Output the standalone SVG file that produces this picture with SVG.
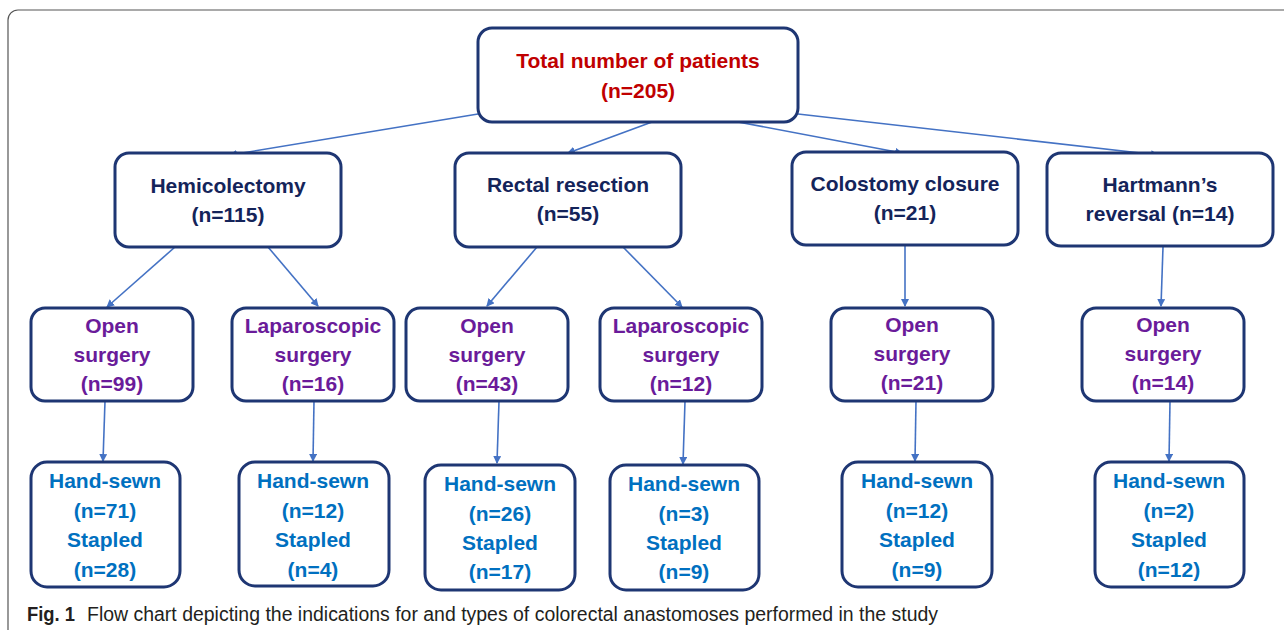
<svg xmlns="http://www.w3.org/2000/svg" width="1284" height="630" viewBox="0 0 1284 630">
<style>
.box{fill:#fff;stroke:#1E3673;stroke-width:3}
.t{font-family:"Liberation Sans",Arial,sans-serif;font-weight:bold;font-size:21px;text-anchor:middle}
.red{fill:#C00000}
.navy{fill:#14245A}
.pur{fill:#6A1B9A}
.blu{fill:#0070C0}
.c line{stroke:#4472C4;stroke-width:1.6;marker-end:url(#ah)}
.cap{font-family:"Liberation Sans",Arial,sans-serif;font-size:20px;fill:#231F20}
</style>
<defs>
<marker id="ah" markerWidth="8" markerHeight="8" refX="7" refY="4" orient="auto" markerUnits="userSpaceOnUse">
<path d="M0,0 L8,4 L0,8 Z" fill="#4472C4"/>
</marker>
</defs>
<rect width="1284" height="630" fill="#fff"/>
<rect x="8" y="10" width="1290" height="640" rx="10" fill="none" stroke="#555" stroke-width="1.2"/>

<g class="c">
<line x1="478" y1="114" x2="230" y2="155"/>
<line x1="652" y1="122" x2="568" y2="153"/>
<line x1="738" y1="122" x2="902" y2="153"/>
<line x1="798" y1="114" x2="1158" y2="155"/>
<line x1="175" y1="247" x2="107" y2="307"/>
<line x1="268" y1="247" x2="318" y2="306"/>
<line x1="537" y1="247" x2="487" y2="306"/>
<line x1="623" y1="247" x2="682" y2="307"/>
<line x1="905" y1="245" x2="905" y2="306"/>
<line x1="1163" y1="247" x2="1161" y2="306"/>
<line x1="105" y1="401" x2="103" y2="461"/>
<line x1="314" y1="401" x2="313" y2="461"/>
<line x1="499" y1="401" x2="497" y2="463"/>
<line x1="685" y1="401" x2="683" y2="464"/>
<line x1="916" y1="401" x2="915" y2="461"/>
<line x1="1170" y1="401" x2="1169" y2="461"/>
</g>

<g id="total">
<rect class="box" x="478" y="28" width="320" height="94" rx="14"/>
<text class="t red" x="638" y="68">Total number of patients</text>
<text class="t red" x="638" y="98">(n=205)</text>
</g>

<g id="hemi">
<rect class="box" x="115" y="153" width="226" height="94" rx="14"/>
<text class="t navy" x="228" y="193">Hemicolectomy</text>
<text class="t navy" x="228" y="222">(n=115)</text>
</g>
<g id="rectal">
<rect class="box" x="455" y="153" width="226" height="94" rx="14"/>
<text class="t navy" x="568" y="192">Rectal resection</text>
<text class="t navy" x="568" y="221">(n=55)</text>
</g>
<g id="colostomy">
<rect class="box" x="792" y="152" width="226" height="93" rx="14"/>
<text class="t navy" x="905" y="191">Colostomy closure</text>
<text class="t navy" x="905" y="220">(n=21)</text>
</g>
<g id="hartmann">
<rect class="box" x="1047" y="153" width="226" height="93" rx="14"/>
<text class="t navy" x="1160" y="192">Hartmann’s</text>
<text class="t navy" x="1160" y="221">reversal (n=14)</text>
</g>

<g id="open1">
<rect class="box" x="31" y="308" width="162" height="93" rx="14"/>
<text class="t pur" x="112" y="333">Open</text>
<text class="t pur" x="112" y="362">surgery</text>
<text class="t pur" x="112" y="391">(n=99)</text>
</g>
<g id="lap1">
<rect class="box" x="232" y="308" width="162" height="93" rx="14"/>
<text class="t pur" x="313" y="333">Laparoscopic</text>
<text class="t pur" x="313" y="362">surgery</text>
<text class="t pur" x="313" y="391">(n=16)</text>
</g>
<g id="open2">
<rect class="box" x="406" y="308" width="162" height="93" rx="14"/>
<text class="t pur" x="487" y="333">Open</text>
<text class="t pur" x="487" y="362">surgery</text>
<text class="t pur" x="487" y="391">(n=43)</text>
</g>
<g id="lap2">
<rect class="box" x="600" y="308" width="162" height="93" rx="14"/>
<text class="t pur" x="681" y="333">Laparoscopic</text>
<text class="t pur" x="681" y="362">surgery</text>
<text class="t pur" x="681" y="391">(n=12)</text>
</g>
<g id="open3">
<rect class="box" x="831" y="308" width="162" height="93" rx="14"/>
<text class="t pur" x="912" y="332">Open</text>
<text class="t pur" x="912" y="361">surgery</text>
<text class="t pur" x="912" y="390">(n=21)</text>
</g>
<g id="open4">
<rect class="box" x="1082" y="308" width="162" height="93" rx="14"/>
<text class="t pur" x="1163" y="332">Open</text>
<text class="t pur" x="1163" y="361">surgery</text>
<text class="t pur" x="1163" y="390">(n=14)</text>
</g>

<g id="anast1">
<rect class="box" x="31" y="462" width="149" height="125" rx="16"/>
<text class="t blu" x="105" y="488">Hand-sewn</text>
<text class="t blu" x="105" y="518">(n=71)</text>
<text class="t blu" x="105" y="547">Stapled</text>
<text class="t blu" x="105" y="577">(n=28)</text>
</g>
<g id="anast2">
<rect class="box" x="239" y="462" width="150" height="124" rx="16"/>
<text class="t blu" x="313" y="488">Hand-sewn</text>
<text class="t blu" x="313" y="518">(n=12)</text>
<text class="t blu" x="313" y="547">Stapled</text>
<text class="t blu" x="313" y="577">(n=4)</text>
</g>
<g id="anast3">
<rect class="box" x="425" y="465" width="150" height="125" rx="16"/>
<text class="t blu" x="500" y="491">Hand-sewn</text>
<text class="t blu" x="500" y="521">(n=26)</text>
<text class="t blu" x="500" y="550">Stapled</text>
<text class="t blu" x="500" y="579">(n=17)</text>
</g>
<g id="anast4">
<rect class="box" x="610" y="465" width="149" height="125" rx="16"/>
<text class="t blu" x="684" y="491">Hand-sewn</text>
<text class="t blu" x="684" y="521">(n=3)</text>
<text class="t blu" x="684" y="550">Stapled</text>
<text class="t blu" x="684" y="579">(n=9)</text>
</g>
<g id="anast5">
<rect class="box" x="842" y="462" width="150" height="125" rx="16"/>
<text class="t blu" x="917" y="488">Hand-sewn</text>
<text class="t blu" x="917" y="518">(n=12)</text>
<text class="t blu" x="917" y="547">Stapled</text>
<text class="t blu" x="917" y="577">(n=9)</text>
</g>
<g id="anast6">
<rect class="box" x="1095" y="462" width="149" height="125" rx="16"/>
<text class="t blu" x="1169" y="488">Hand-sewn</text>
<text class="t blu" x="1169" y="518">(n=2)</text>
<text class="t blu" x="1169" y="547">Stapled</text>
<text class="t blu" x="1169" y="577">(n=12)</text>
</g>

<g id="caption">
<text class="cap" x="27" y="621" font-weight="bold" textLength="48" lengthAdjust="spacingAndGlyphs">Fig. 1</text>
<text class="cap" x="87" y="621" textLength="851" lengthAdjust="spacingAndGlyphs">Flow chart depicting the indications for and types of colorectal anastomoses performed in the study</text>
</g>
</svg>
